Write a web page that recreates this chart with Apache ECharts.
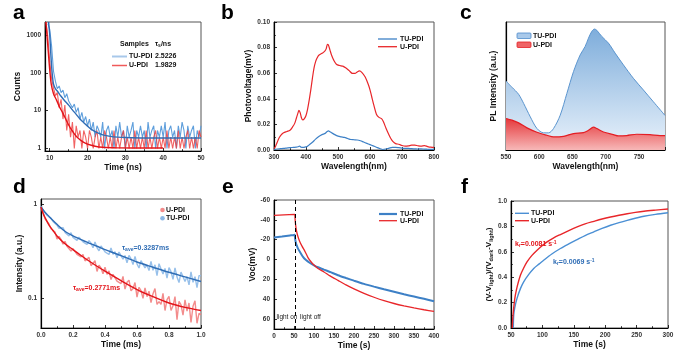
<!DOCTYPE html>
<html><head><meta charset="utf-8">
<script src="https://cdn.jsdelivr.net/npm/echarts@6/dist/echarts.min.js"></script>
<style>html,body{margin:0;padding:0;background:#fff}#c{width:700px;height:358px}</style>
</head><body><div id="c"></div>
<script>
// ---------- panel a : TRPL decay (counts, log) ----------
const aTime = [
 9, 9.5, 10, 10.5, 11, 11.5, 12, 12.5, 13, 13.5,
 14, 14.5, 15, 15.5, 16, 16.5, 17, 17.5, 18, 18.5,
 19, 19.5, 20, 20.5, 21, 21.5, 22, 22.5, 23, 23.5,
 24, 24.5, 25, 25.5, 26, 26.5, 27, 27.5, 28, 28.5,
 29, 29.5, 30, 30.5, 31, 31.5, 32, 32.5, 33, 33.5,
 34, 34.5, 35, 35.5, 36, 36.5, 37, 37.5, 38, 38.5,
 39, 39.5, 40, 40.5, 41, 41.5, 42, 42.5, 43, 43.5,
 44, 44.5, 45, 45.5, 46, 46.5, 47, 47.5, 48, 48.5,
 49, 49.5, 50];
const aTU = [
 '-', 2000, 1400, 500, 110, 60, 38, 45, 30, 35,
 22, 28, 18, 20, 12, 15, 9, 12, 6, 9,
 5, 7, 4, 6, 3, 5, 2, 4, 3, 2,
 5, 1, 3, 4, 2, 3, 1, 4, 2, 5,
 2, 3, 1, 4, 2, 3, 5, 1, 3, 2,
 4, 2, 3, 1, 5, 2, 3, 4, 1, 3,
 2, 4, 2, 5, 1, 3, 4, 2, 3, 1,
 4, 2, 5, 3, 1, 4, 2, 3, 4, 1,
 3, 2, 4];
const aU = [
 2200, 900, 200, 70, 40, 25, 30, 12, 20, 6,
 14, 3, 8, 2, 5, 1, 4, 2, 3, 1,
 3, 2, 1, 3, 2, 1, 2, 3, 1, 2,
 1, 3, 2, 1, 2, 1, 3, 1, 2, 1,
 2, 3, 1, 2, 1, 2, 1, 3, 1, 2,
 1, 2, 1, 3, 1, 2, 1, 2, 3, 1,
 2, 1, 2, 1, 3, 1, 2, 1, 2, 1,
 3, 1, 2, 1, 2, 3, 1, 2, 1, 2,
 1, 3, 2];
const aFitTU = [[9.7,2200],[10,1000],[10.3,300],[10.6,110],[11,50],[11.5,38],[12,33],[13,24],[14,18],[15,14],[16,10.5],[17,8],[18,6],[19,4.8],[20,3.9],[21,3.2],[22,2.8],[23,2.5],[24,2.3],[26,2.1],[28,2.0],[30,1.95],[35,1.9],[40,1.9],[50,1.9]];
const aFitU = [[9,2200],[9.3,900],[9.6,380],[10,120],[10.4,50],[11,28],[11.8,19],[12.5,13],[13.5,8.5],[14.5,5.3],[15.3,3.7],[16,2.9],[17,2.1],[18,1.7],[19,1.45],[20,1.3],[22,1.15],[24,1.08],[28,1.04],[32,1.03],[40,1.03]];
const aLegendRows = [['TU-PDI','2.5226'],['U-PDI','1.9829']];

// ---------- panel b : surface photovoltage ----------
const bU = [[300,0.001],[305,0.003],[310,0.006],[315,0.009],[320,0.011],[325,0.0125],[330,0.0135],[340,0.0145],[350,0.0155],[358,0.018],[365,0.021],[370,0.025],[375,0.029],[378,0.031],[382,0.029],[386,0.025],[390,0.0235],[395,0.0245],[400,0.027],[405,0.032],[410,0.039],[415,0.047],[420,0.056],[425,0.064],[430,0.069],[435,0.072],[440,0.074],[450,0.0755],[458,0.077],[463,0.079],[467,0.0825],[470,0.082],[475,0.078],[480,0.074],[487,0.070],[495,0.067],[505,0.066],[515,0.0655],[525,0.064],[535,0.062],[545,0.0598],[553,0.0598],[560,0.061],[567,0.0618],[575,0.0605],[585,0.057],[595,0.051],[600,0.047],[605,0.042],[612,0.035],[620,0.028],[628,0.0255],[636,0.0245],[642,0.022],[650,0.017],[658,0.0125],[665,0.009],[672,0.0065],[680,0.005],[690,0.0045],[700,0.0035],[710,0.003],[720,0.0032],[730,0.0038],[740,0.0038],[750,0.0033],[760,0.003],[770,0.0034],[780,0.0027],[790,0.0022],[800,0.002]];
const bTU = [[300,0.0005],[310,0.0008],[320,0.001],[330,0.0012],[340,0.0015],[350,0.0018],[360,0.002],[370,0.0022],[375,0.0025],[380,0.003],[385,0.0022],[390,0.002],[400,0.0025],[405,0.003],[410,0.004],[420,0.006],[430,0.0085],[440,0.0105],[450,0.012],[460,0.013],[465,0.0142],[470,0.015],[475,0.0143],[480,0.0135],[490,0.012],[500,0.0108],[510,0.0102],[520,0.0098],[530,0.009],[540,0.0082],[550,0.008],[560,0.0078],[570,0.0072],[580,0.0062],[590,0.0052],[600,0.0042],[610,0.0032],[620,0.0022],[630,0.0012],[640,0.0004],[650,0.0008],[660,0.0015],[670,0.002],[680,0.002],[690,0.0018],[700,0.0015],[710,0.0013],[720,0.0012],[730,0.001],[740,0.0009],[750,0.0008],[760,0.0009],[770,0.0007],[780,0.0006],[790,0.0005],[800,0.0005]];

// ---------- panel c : PL spectra ----------
const cTU = [[550,0.539],[559,0.49],[569,0.435],[576.5,0.364],[586.5,0.259],[596.5,0.168],[606.5,0.134],[614,0.134],[621.5,0.168],[631.5,0.272],[641.5,0.442],[651.5,0.613],[661.5,0.743],[669,0.809],[674,0.874],[679,0.927],[683,0.945],[686.5,0.935],[694,0.887],[704,0.835],[714,0.757],[726.5,0.665],[741.5,0.56],[756.5,0.469],[771.5,0.377],[789,0.27]];
const cU = [[550,0.246],[559,0.233],[569,0.212],[581.5,0.173],[596.5,0.139],[611.5,0.115],[621.5,0.102],[636.5,0.107],[651.5,0.128],[666.5,0.136],[674,0.154],[681.5,0.178],[686.5,0.168],[696.5,0.141],[711.5,0.12],[719,0.11],[731.5,0.113],[746.5,0.123],[766.5,0.12],[781.5,0.113],[789,0.113]];

// ---------- panel d : transient decay (log) ----------
const dTime = [
 0, 0.0125, 0.025, 0.0375, 0.05, 0.0625, 0.075, 0.0875, 0.1, 0.1125,
 0.125, 0.1375, 0.15, 0.1625, 0.175, 0.1875, 0.2, 0.2125, 0.225, 0.2375,
 0.25, 0.2625, 0.275, 0.2875, 0.3, 0.3125, 0.325, 0.3375, 0.35, 0.3625,
 0.375, 0.3875, 0.4, 0.4125, 0.425, 0.4375, 0.45, 0.4625, 0.475, 0.4875,
 0.5, 0.5125, 0.525, 0.5375, 0.55, 0.5625, 0.575, 0.5875, 0.6, 0.6125,
 0.625, 0.6375, 0.65, 0.6625, 0.675, 0.6875, 0.7, 0.7125, 0.725, 0.7375,
 0.75, 0.7625, 0.775, 0.7875, 0.8, 0.8125, 0.825, 0.8375, 0.85, 0.8625,
 0.875, 0.8875, 0.9, 0.9125, 0.925, 0.9375, 0.95, 0.9625, 0.975, 0.9875,
 1.0];
const dTU = [
 0.953, 0.857, 0.828, 0.76, 0.755, 0.709, 0.655, 0.658, 0.598, 0.553,
 0.577, 0.564, 0.502, 0.503, 0.461, 0.498, 0.444, 0.457, 0.413, 0.447,
 0.44, 0.398, 0.41, 0.374, 0.411, 0.385, 0.345, 0.397, 0.347, 0.32,
 0.361, 0.361, 0.312, 0.327, 0.293, 0.343, 0.295, 0.313, 0.27, 0.311,
 0.316, 0.262, 0.286, 0.239, 0.287, 0.265, 0.229, 0.279, 0.233, 0.211,
 0.252, 0.255, 0.211, 0.227, 0.198, 0.247, 0.199, 0.228, 0.175, 0.234,
 0.233, 0.182, 0.209, 0.165, 0.213, 0.193, 0.16, 0.212, 0.169, 0.148,
 0.191, 0.195, 0.152, 0.171, 0.14, 0.192, 0.149, 0.171, 0.131, 0.175,
 0.175];
const dU = [
 0.916, 0.824, 0.698, 0.656, 0.616, 0.547, 0.522, 0.506, 0.427, 0.454,
 0.423, 0.377, 0.403, 0.358, 0.369, 0.319, 0.338, 0.341, 0.294, 0.291,
 0.277, 0.293, 0.251, 0.263, 0.273, 0.223, 0.229, 0.252, 0.194, 0.226,
 0.211, 0.183, 0.215, 0.181, 0.197, 0.159, 0.181, 0.189, 0.153, 0.155,
 0.144, 0.172, 0.126, 0.149, 0.157, 0.121, 0.128, 0.148, 0.104, 0.132,
 0.122, 0.101, 0.13, 0.105, 0.12, 0.091, 0.113, 0.128, 0.087, 0.093,
 0.087, 0.114, 0.075, 0.098, 0.106, 0.075, 0.084, 0.105, 0.06, 0.094,
 0.086, 0.067, 0.097, 0.074, 0.09, 0.056, 0.083, 0.095, 0.055, 0.07,
 0.068];
const dFitTU = [[0,0.93],[0.025,0.82],[0.05,0.74],[0.075,0.67],[0.1,0.61],[0.15,0.515],[0.2,0.46],[0.25,0.42],[0.3,0.387],[0.35,0.358],[0.4,0.33],[0.5,0.285],[0.6,0.244],[0.7,0.215],[0.8,0.19],[0.9,0.17],[1.0,0.152]];
const dFitU = [[0,0.93],[0.0125,0.8],[0.025,0.72],[0.05,0.6],[0.075,0.525],[0.1,0.46],[0.15,0.38],[0.2,0.33],[0.25,0.286],[0.3,0.25],[0.35,0.22],[0.4,0.195],[0.5,0.155],[0.6,0.125],[0.7,0.105],[0.8,0.09],[0.9,0.081],[1.0,0.075]];

// ---------- panel e : Voc decay ----------
const eSwitchTime = 52;
const eTU = [[0,-22.2],[10,-22.7],[20,-23.2],[30,-23.8],[40,-24.3],[50,-24.8],[52,-25],[52.5,-22],[53.5,-19],[55,-16.5],[57,-14],[60,-11],[65,-7.5],[72,-3],[80,0.5],[90,3.5],[100,5.8],[110,7.8],[125,10.2],[140,12.5],[160,15.8],[180,18.6],[200,21.3],[225,24.5],[250,27.3],[275,30],[300,32.5],[325,35],[350,37.3],[375,39.6],[400,42]];
const eU = [[0,-44.5],[25,-45],[52,-45.5],[52.5,-42],[53.5,-37],[55,-32],[57,-27.5],[60,-23],[64,-18.5],[70,-13.5],[77,-8.5],[85,-2],[93,2.5],[100,5.5],[110,9],[125,12.5],[140,16.5],[160,21],[180,25.5],[200,29.5],[225,34],[250,38],[275,41.5],[300,44.3],[325,46.7],[350,48.8],[375,50.6],[400,52.3]];

// ---------- panel f : normalized recovery ----------
const fU = [[52,0],[52.5,0.05],[53.2,0.1],[55,0.19],[57,0.26],[60,0.33],[65,0.416],[70,0.47],[75.5,0.52],[83,0.57],[91.5,0.613],[100,0.65],[107.4,0.678],[118,0.71],[128.7,0.736],[142,0.767],[155.3,0.796],[168,0.82],[181.9,0.84],[195,0.858],[208.5,0.874],[222,0.888],[235,0.9],[248,0.91],[261.7,0.919],[280,0.928],[300,0.937]];
const fTU = [[53.7,0],[54.3,0.1],[56,0.16],[59.6,0.233],[65,0.31],[70.2,0.364],[78,0.42],[86.2,0.469],[95,0.505],[102.1,0.534],[115,0.583],[128.7,0.626],[142,0.662],[155.3,0.696],[168,0.728],[181.9,0.757],[195,0.784],[208.5,0.809],[222,0.83],[235,0.848],[248,0.864],[261.7,0.88],[280,0.895],[300,0.908]];

// ---------- styling ----------
const FONT = '"Liberation Sans", Arial, sans-serif';
const BLUE = '#3d80c6', RED = '#e8262a';
function merge(a, b) {
  for (const k in b) {
    if (b[k] && typeof b[k] === 'object' && !Array.isArray(b[k]) && a[k] && typeof a[k] === 'object') merge(a[k], b[k]);
    else a[k] = b[k];
  }
  return a;
}
function baseAxis(g, o) {
  return merge({
    type: 'value', gridIndex: g, nameLocation: 'middle', nameGap: 12,
    nameTextStyle: {fontFamily: FONT, fontWeight: 'bold', fontSize: 8.5, color: '#111'},
    axisLine: {show: true, onZero: false, lineStyle: {color: '#000', width: 1.2}},
    axisTick: {show: true, inside: true, length: 3, lineStyle: {color: '#000', width: 0.8}},
    minorTick: {show: true, splitNumber: 2, length: 1.8, lineStyle: {color: '#000', width: 0.8}},
    axisLabel: {fontFamily: FONT, fontWeight: 'bold', fontSize: 6.5, color: '#333', margin: 4},
    splitLine: {show: false}
  }, o || {});
}
const logFmt = v => String(+(+v).toPrecision(4));

const grids = [
  {left: 45, top: 22, width: 156, height: 129},
  {left: 274, top: 22, width: 160, height: 128},
  {left: 506, top: 22, width: 159, height: 128},
  {left: 41, top: 199, width: 160, height: 129},
  {left: 274, top: 200, width: 160, height: 129},
  {left: 511, top: 201, width: 157, height: 127}
].map(g => Object.assign({show: true, borderColor: '#555', borderWidth: 1, backgroundColor: 'transparent'}, g));

const xAxes = [
  baseAxis(0, {name: 'Time (ns)', nameGap: 11, min: 8.75, max: 50, axisLabel: {showMinLabel: false}}),
  baseAxis(1, {name: 'Wavelength(nm)', nameGap: 12, min: 300, max: 800, interval: 100}),
  baseAxis(2, {name: 'Wavelength(nm)', nameGap: 11, min: 550, max: 789, interval: 50, axisLabel: {showMaxLabel: false}}),
  baseAxis(3, {name: 'Time (ms)', nameGap: 11, min: 0, max: 1, interval: 0.2, axisLabel: {formatter: v => (+v).toFixed(1)}}),
  baseAxis(4, {name: 'Time (s)', nameGap: 11, min: 0, max: 400, interval: 50}),
  baseAxis(5, {name: 'Time (s)', nameGap: 11, min: 50, max: 300, interval: 50})
];
const yAxes = [
  baseAxis(0, {type: 'log', logBase: 10, name: 'Counts', nameGap: 22, min: 0.86, max: 2200, minorTick: {show: false},
    axisLabel: {formatter: logFmt, showMinLabel: false, showMaxLabel: false}}),
  baseAxis(1, {name: 'Photovoltage(mV)', nameGap: 19, min: 0, max: 0.1, interval: 0.02, axisLabel: {formatter: v => (+v).toFixed(2)}}),
  baseAxis(2, {name: 'PL Intensity (a.u.)', nameGap: 8, min: 0, max: 1, axisLabel: {show: false}, axisTick: {show: false}, minorTick: {show: false}}),
  baseAxis(3, {type: 'log', logBase: 10, name: 'Intensity (a.u.)', nameGap: 9, min: 0.049, max: 1.13, minorTick: {show: false},
    axisLabel: {formatter: logFmt, showMinLabel: false, showMaxLabel: false}}),
  baseAxis(4, {name: 'Voc(mV)', nameGap: 14, inverse: true, min: -60, max: 70, interval: 20, minorTick: {show: false},
    axisLabel: {showMaxLabel: false}}),
  baseAxis(5, {name: '(V-V{s|light})/(V{s|dark}-V{s|light})', nameGap: 13, min: 0, max: 1, interval: 0.2,
    axisLabel: {formatter: v => (+v).toFixed(1)},
    nameTextStyle: {fontSize: 8, rich: {s: {fontFamily: FONT, fontWeight: 'bold', fontSize: 5.5, color: '#111', padding: [4, 0, 0, 0]}}}})
];

function line(g, data, color, width, extra) {
  return Object.assign({type: 'line', xAxisIndex: g, yAxisIndex: g, data: data, symbol: 'none', showSymbol: false,
    lineStyle: {color: color, width: width}, itemStyle: {color: color}, animation: false}, extra || {});
}
const pairs = (xs, ys) => xs.map((x, i) => [x, ys[i]]).filter(p => p[1] !== '-');

const series = [
  line(0, pairs(aTime, aTU), '#5f9fdc', 1.1),
  line(0, pairs(aTime, aU), 'rgba(238,60,60,0.8)', 1.1),
  line(0, aFitTU, '#2f6db5', 1.4, {smooth: 0.3}),
  line(0, aFitU, '#e3141a', 1.4, {smooth: 0.3}),
  line(1, bTU, BLUE, 1.2, {smooth: 0.3}),
  line(1, bU, RED, 1.2, {smooth: 0.3}),
  line(2, cTU, '#5b95cf', 1, {smooth: 0.3, areaStyle: {opacity: 1, color: {type: 'linear', x: 0, y: 0, x2: 0, y2: 1,
    colorStops: [{offset: 0, color: '#7eaddb'}, {offset: 1, color: '#e9f2fb'}]}}}),
  line(2, cU, '#e31e24', 1.2, {smooth: 0.3, areaStyle: {opacity: 1, color: {type: 'linear', x: 0, y: 0, x2: 0, y2: 1,
    colorStops: [{offset: 0, color: '#e5393c'}, {offset: 1, color: '#f7b8b8'}]}}}),
  line(3, pairs(dTime, dTU), 'rgba(140,185,232,0.9)', 1.4),
  line(3, pairs(dTime, dU), 'rgba(242,128,128,0.9)', 1.4),
  line(3, dFitTU, '#2f6db5', 1.4, {smooth: 0.3}),
  line(3, dFitU, '#e3141a', 1.4, {smooth: 0.3}),
  line(4, eTU, BLUE, 2, {smooth: 0.2, markLine: {symbol: 'none', silent: true, label: {show: false},
    lineStyle: {color: '#000', type: [4, 3], width: 1}, data: [{xAxis: eSwitchTime}]}}),
  line(4, eU, RED, 1.3, {smooth: 0.2}),
  line(5, fTU, '#4a8fd4', 1.4, {smooth: 0.3}),
  line(5, fU, RED, 1.4, {smooth: 0.3})
];

// ---------- graphic: panel letters, legends, annotations ----------
function T(x, y, text, o) {
  o = o || {};
  return {type: 'text', x: x, y: y, silent: true, z: 100, style: Object.assign({text: text, fontFamily: FONT,
    fontSize: o.size || 7, fontWeight: o.weight || 'bold', fill: o.color || '#111', align: o.align || 'left',
    verticalAlign: o.va || 'middle', rich: o.rich}, o.style || {})};
}
function L(x1, y1, x2, y2, color, w) {
  return {type: 'line', silent: true, z: 100, shape: {x1: x1, y1: y1, x2: x2, y2: y2}, style: {stroke: color, lineWidth: w}};
}
const subRich = (color) => ({
  s: {fontFamily: FONT, fontWeight: 'bold', fontSize: 5, fill: color, padding: [3, 0, 0, 0]},
  p: {fontFamily: FONT, fontWeight: 'bold', fontSize: 5, fill: color, padding: [0, 0, 3, 0]}
});
const letters = [['a', 13, 3], ['b', 221, 3], ['c', 460, 3], ['d', 13, 177], ['e', 222, 177], ['f', 461, 177]];
const graphics = [];
letters.forEach(l => graphics.push(T(l[1], l[2], l[0], {size: 21, va: 'top', color: '#000'})));
// legend a
graphics.push(T(120, 44, 'Samples'));
graphics.push(T(155, 44, 'τ{s|s}/ns', {rich: subRich('#111')}));
graphics.push(L(112, 56.5, 127, 56.5, '#a8c8ea', 2));
graphics.push(L(112, 65.5, 127, 65.5, '#f05a5a', 1.5));
aLegendRows.forEach((r, i) => {
  graphics.push(T(129, 56.5 + 9 * i, r[0]));
  graphics.push(T(155, 56.5 + 9 * i, r[1]));
});
// legend b
graphics.push(L(378, 39, 397, 39, BLUE, 1.3), T(400, 39, 'TU-PDI'));
graphics.push(L(378, 46.7, 397, 46.7, RED, 1.3), T(400, 46.7, 'U-PDI'));
// legend c
graphics.push({type: 'rect', silent: true, z: 100, shape: {x: 517, y: 33, width: 14, height: 5.5, r: 1}, style: {fill: '#a9c9ea', stroke: '#4f8ccb', lineWidth: 0.8}});
graphics.push({type: 'rect', silent: true, z: 100, shape: {x: 517, y: 42, width: 14, height: 5.5, r: 1}, style: {fill: '#ef6466', stroke: '#e31e24', lineWidth: 0.8}});
graphics.push(T(533, 36, 'TU-PDI'), T(533, 45, 'U-PDI'));
// legend d
graphics.push({type: 'circle', silent: true, z: 100, shape: {cx: 162.5, cy: 210, r: 2.3}, style: {fill: 'rgba(240,110,110,0.8)'}});
graphics.push({type: 'circle', silent: true, z: 100, shape: {cx: 162.5, cy: 218.3, r: 2.3}, style: {fill: 'rgba(120,170,225,0.85)'}});
graphics.push(T(166, 210, 'U-PDI'), T(166, 218.3, 'TU-PDI'));
graphics.push(T(122, 248, 'τ{s|ave}=0.3287ms', {color: '#2f6db5', rich: subRich('#2f6db5')}));
graphics.push(T(73, 288, 'τ{s|ave}=0.2771ms', {color: '#e3141a', rich: subRich('#e3141a')}));
// legend e
graphics.push(L(379, 214, 397, 214, BLUE, 2.2), T(400, 214, 'TU-PDI'));
graphics.push(L(379, 220.7, 397, 220.7, RED, 1.3), T(400, 220.7, 'U-PDI'));
graphics.push(T(276.5, 317, 'light on', {weight: 'normal', size: 6.5, color: '#222'}));
graphics.push(T(300, 317, 'light off', {weight: 'normal', size: 6.5, color: '#222'}));
// legend f
graphics.push(L(515, 213.3, 529, 213.3, '#4a8fd4', 1.4), T(531, 213.3, 'TU-PDI'));
graphics.push(L(515, 220.7, 529, 220.7, RED, 1.4), T(531, 220.7, 'U-PDI'));
graphics.push(T(515, 244, 'k{s|r}=0.0081 s{p|-1}', {color: '#e3141a', rich: subRich('#e3141a')}));
graphics.push(T(553, 262, 'k{s|r}=0.0069 s{p|-1}', {color: '#2f6db5', rich: subRich('#2f6db5')}));

const chart = echarts.init(document.getElementById('c'), null, {renderer: 'canvas'});
chart.setOption({
  animation: false,
  backgroundColor: '#fff',
  grid: grids,
  xAxis: xAxes,
  yAxis: yAxes,
  series: series,
  graphic: {elements: graphics}
});
</script>
</body></html>
